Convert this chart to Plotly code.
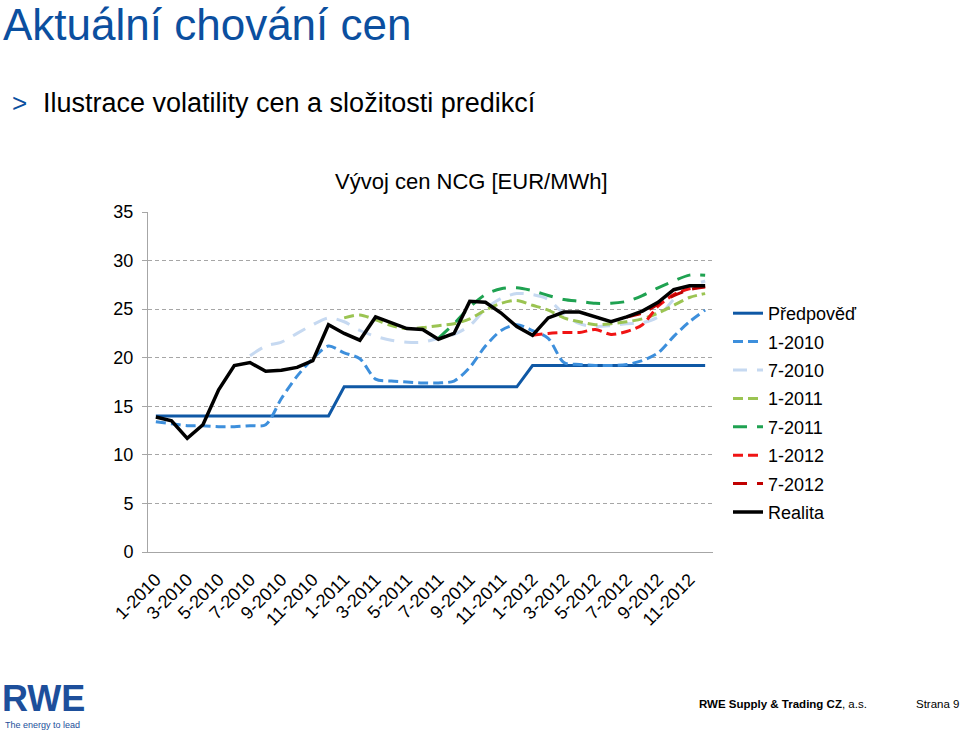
import plotly.graph_objects as go

# ---------------- data ----------------
months = [f"{m}-{y}" for y in (2010, 2011, 2012) for m in range(1, 13)]
tick_labels = months[::2]

predpoved = [14.0] * 12 + [17.0] * 12 + [19.2] * 12

f_1_2010 = [13.4, 13.2, 13.0, 13.0, 12.9, 12.9, 13.0, 13.1, 15.8, 18.1, 19.9, 21.2,
            20.5, 19.9, 17.8, 17.6, 17.5, 17.4, 17.4, 17.6, 19.0, 21.2, 22.8, 23.4,
            22.8, 22.0, 19.5, 19.3, 19.2, 19.2, 19.3, 19.7, 20.5, 22.2, 23.7, 24.9]

f_7_2010 = [None] * 6 + [20.2, 21.2, 21.6, 22.5, 23.4, 24.1,
                         23.7, 22.8, 22.2, 21.8, 21.6, 21.6, 22.0, 22.4, 23.3, 25.0, 26.1, 26.6,
                         26.5, 26.0, 24.5, 23.5, 23.2, 23.3, 23.5, 23.6, 24.2, 26.0, 27.3, 27.9]

f_1_2011 = [None] * 12 + [24.1, 24.4, 23.9, 23.3, 23.0, 23.1, 23.3, 23.5, 24.0, 24.9, 25.6, 25.9,
                          25.4, 24.9, 24.1, 23.7, 23.4, 23.5, 23.7, 24.0, 24.6, 25.4, 26.2, 26.6]

f_7_2011 = [None] * 18 + [22.0, 23.5, 25.2, 26.5, 27.1, 27.2,
                          26.9, 26.4, 26.0, 25.8, 25.6, 25.6, 25.8, 26.4, 27.2, 27.9, 28.5, 28.5]

f_1_2012 = [None] * 24 + [22.3, 22.5, 22.6, 22.6, 22.9, 22.4, 22.7, 23.4, 25.3, 26.5, 27.1, 27.3]

f_7_2012 = [None] * 30 + [24.2, 24.6, 25.5, 26.4, 27.0, 27.3]

realita = [13.9, 13.5, 11.7, 13.1, 16.7, 19.2, 19.5, 18.6, 18.7, 19.0, 19.7, 23.4,
           22.5, 21.8, 24.2, 23.6, 23.0, 22.9, 21.9, 22.5, 25.8, 25.7, 24.6, 23.2,
           22.3, 24.1, 24.7, 24.7, 24.2, 23.7, 24.2, 24.8, 25.7, 27.0, 27.4, 27.4]

# ---------------- styles ----------------
FONT = "Arial, Liberation Sans, sans-serif"
BLUE = "#0b4f9f"
SHORT = "10px,5px"
LONG = "14px,10px"

series = [
    ("Předpověď", predpoved, "#0f58a5", "solid", "linear", 3),
    ("1-2010", f_1_2010, "#3d8fdc", SHORT, "spline", 3),
    ("7-2010", f_7_2010, "#c6d9f1", LONG, "spline", 3),
    ("1-2011", f_1_2011, "#9bc452", SHORT, "spline", 3),
    ("7-2011", f_7_2011, "#1fa251", LONG, "spline", 3),
    ("1-2012", f_1_2012, "#f01414", SHORT, "spline", 3),
    ("7-2012", f_7_2012, "#c00000", LONG, "spline", 3),
    ("Realita", realita, "#000000", "solid", "linear", 3.5),
]

fig = go.Figure()
for i, (name, vals, color, dash, shape, w) in enumerate(series):
    fig.add_trace(go.Scatter(
        x=months, y=vals, name=name, mode="lines",
        line=dict(color=color, dash=dash, width=w, shape=shape, smoothing=0.8),
        legendgroup=f"g{i}", connectgaps=False,
    ))

L, R, T, B = 148, 713, 212, 552
W, H = 960, 732


def fx(px):
    return (px - L) / (R - L)


def fy(py):
    return (B - py) / (B - T)


annotations = [
    dict(text="Aktuální chování cen", x=fx(1), y=fy(25), xanchor="left", yanchor="middle",
         font=dict(size=44, color=BLUE, family=FONT)),
    dict(text=">", x=fx(10), y=fy(103), xanchor="left", yanchor="middle",
         font=dict(size=26, color=BLUE, family=FONT)),
    dict(text="Ilustrace volatility cen a složitosti predikcí", x=fx(41), y=fy(103),
         xanchor="left", yanchor="middle", font=dict(size=27, color="#000000", family=FONT)),
    dict(text="Vývoj cen NCG [EUR/MWh]", x=fx(471.5), y=fy(181), xanchor="center", yanchor="middle",
         font=dict(size=22, color="#000000", family=FONT)),
    dict(text="<b>RWE Supply &amp; Trading CZ</b>, a.s.", x=fx(697), y=fy(704), xanchor="left",
         yanchor="middle", font=dict(size=11.5, color="#000000", family=FONT)),
    dict(text="Strana 9", x=fx(914), y=fy(704), xanchor="left", yanchor="middle",
         font=dict(size=11.5, color="#000000", family=FONT)),
    dict(text="<b>RWE</b>", x=fx(0), y=fy(698), xanchor="left", yanchor="middle",
         font=dict(size=36, color="#1d4f9b", family=FONT)),
    dict(text="The energy to lead", x=fx(3), y=fy(725), xanchor="left", yanchor="middle",
         font=dict(size=9, color="#1d4f9b", family=FONT)),
]
for a in annotations:
    a.update(xref="paper", yref="paper", showarrow=False)

fig.update_layout(
    width=W, height=H,
    margin=dict(l=L, r=W - R, t=T, b=H - B, pad=0),
    paper_bgcolor="white", plot_bgcolor="white",
    font=dict(family=FONT, size=18, color="#000000"),
    showlegend=True,
    legend=dict(x=fx(728), y=fy(295), xanchor="left", yanchor="top",
                font=dict(size=18, family=FONT), traceorder="grouped",
                tracegroupgap=2, bgcolor="rgba(0,0,0,0)", borderwidth=0),
    annotations=annotations,
)

fig.update_xaxes(
    type="category", range=[-0.5, 35.5],
    tickmode="array", tickvals=tick_labels, ticktext=tick_labels,
    tickangle=-45, showgrid=False, showline=True, linecolor="#a6a6a6", linewidth=1,
    ticks="", tickfont=dict(size=18, family=FONT), zeroline=False, ticklabelstandoff=9,
)
fig.update_yaxes(
    range=[0, 35], tickvals=[0, 5, 10, 15, 20, 25, 30, 35],
    showgrid=True, gridcolor="#a6a6a6", gridwidth=1, griddash="4px,3px",
    showline=True, linecolor="#a6a6a6", linewidth=1,
    ticks="outside", ticklen=5, tickcolor="#a6a6a6",
    tickfont=dict(size=18, family=FONT), zeroline=False, ticklabelstandoff=5,
)

fig.write_html("out.html")
